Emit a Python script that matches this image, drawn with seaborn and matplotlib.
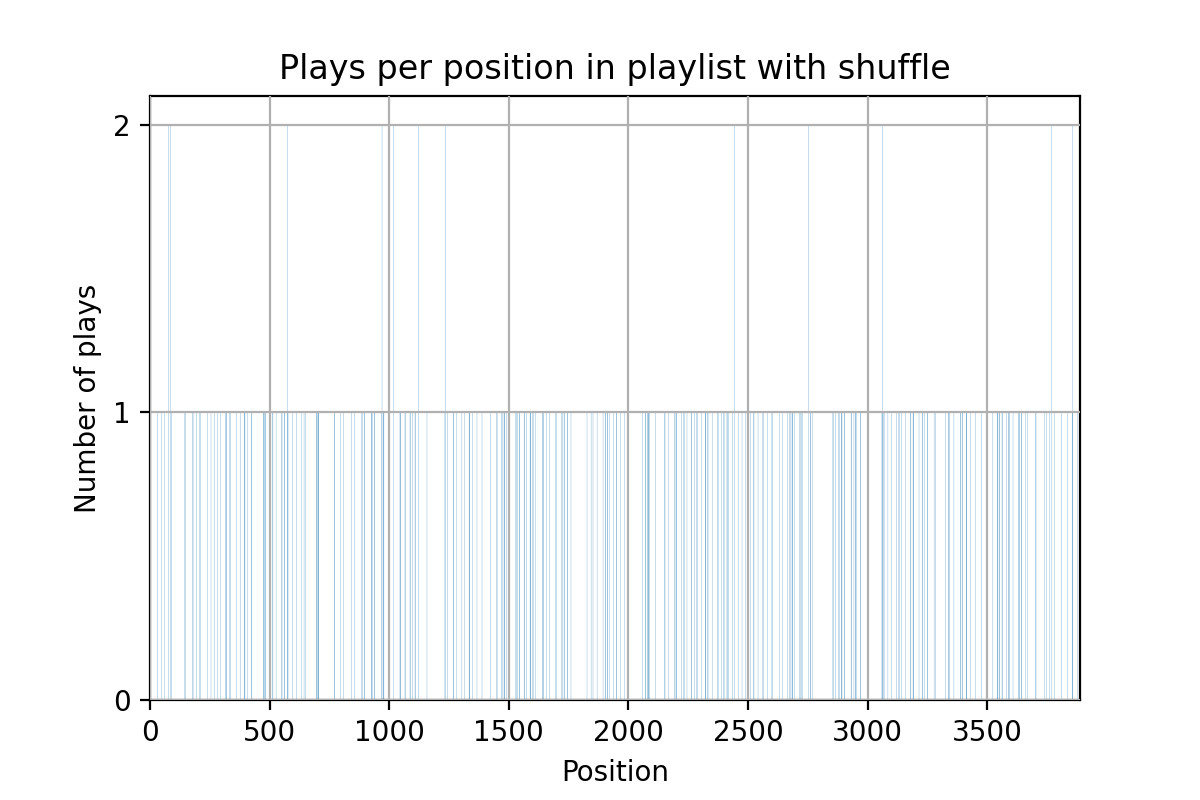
import matplotlib
matplotlib.use('Agg')
import matplotlib.pyplot as plt
import pandas as pd
import numpy as np
import seaborn as sns

# playlist length and positions that got played
n_positions = 3888

played_once = [
    31, 49, 60, 77, 87, 89, 145, 148, 178, 180, 195, 208, 210, 240, 255, 268, 283, 296,
    317, 318, 320, 333, 337, 360, 377, 394, 395, 397, 407, 424, 426, 473, 475, 480, 481,
    483, 512, 514, 527, 550, 552, 561, 563, 574, 576, 577, 597, 614, 635, 644,
    651, 696, 697, 699, 703, 704, 706, 770, 772, 795, 809, 844, 855, 885, 887, 896, 898,
    926, 927, 929, 938, 940, 968, 970, 975, 976, 978, 1018, 1045, 1046, 1048, 1066, 1068,
    1087, 1089, 1098, 1108, 1110, 1123, 1158, 1233, 1235, 1245, 1268, 1270, 1283,
    1304, 1314, 1334, 1335, 1337, 1349, 1367, 1388, 1425, 1449, 1451, 1470, 1472, 1480,
    1481, 1483, 1489, 1527, 1533, 1535, 1544, 1546, 1564, 1566, 1573, 1589, 1590, 1592,
    1600, 1602, 1611, 1642, 1643, 1645, 1657, 1671, 1695, 1701, 1721, 1723, 1731, 1733,
    1745, 1747, 1760, 1827, 1844, 1852, 1869, 1894, 1903, 1905, 1912, 1914, 1922, 1939,
    1949, 1951, 1967, 1985, 2060, 2070, 2072, 2080, 2082, 2084, 2085, 2087, 2113, 2151,
    2153, 2166, 2193, 2195, 2200, 2202, 2222, 2231, 2233, 2245, 2263, 2265, 2276, 2286,
    2288, 2305, 2321, 2322, 2324, 2331, 2333, 2350, 2373, 2375, 2389, 2398, 2400, 2412,
    2414, 2420, 2434, 2445, 2459, 2475, 2489, 2510, 2523, 2525, 2542, 2562, 2564, 2580,
    2600, 2602, 2633, 2643, 2664, 2674, 2676, 2684, 2685, 2687, 2694, 2716, 2718, 2725,
    2727, 2754, 2760, 2762, 2768, 2855, 2857, 2866, 2879, 2881, 2890, 2891, 2893, 2903,
    2905, 2931, 2933, 2943, 2949, 2950, 2952, 2970, 2972, 3060, 3062, 3067, 3069, 3085,
    3099, 3121, 3130, 3132, 3142, 3159, 3179, 3181, 3190, 3191, 3193, 3215, 3228, 3230,
    3238, 3249, 3251, 3278, 3285, 3326, 3339, 3340, 3342, 3361, 3388, 3390, 3395, 3397,
    3412, 3413, 3415, 3431, 3452, 3477, 3522, 3542, 3543, 3545, 3551, 3553, 3562, 3564,
    3580, 3590, 3591, 3593, 3608, 3632, 3633, 3635, 3643, 3645, 3661, 3668, 3702, 3704,
    3738, 3748, 3759, 3770, 3780, 3812, 3836, 3855, 3856, 3858, 3877,
]

played_twice = [77, 87, 574, 970, 1018, 1123, 1235, 2445, 2754, 3061, 3770, 3856]

# counts per position
counts = np.zeros(n_positions, dtype=int)
counts[played_once] = 1
counts[played_twice] = 2
df = pd.DataFrame({'position': np.arange(n_positions), 'plays': counts})

fig, ax = plt.subplots(figsize=(6, 4), dpi=200)
sns.barplot(data=df, x='position', y='plays', native_scale=True, width=1.0,
            color='#1f77b4', saturation=1, linewidth=0, edgecolor='none',
            errorbar=None, ax=ax)

# bars are narrower than a pixel: let them antialias instead of snapping
for p in ax.patches:
    p.set_snap(False)
    p.set_antialiased(True)

ax.set_xlim(0, n_positions)
ax.set_ylim(0, 2.1)
ax.set_yticks([0, 1, 2])
ax.set_xticks(np.arange(0, 4000, 500))
ax.grid(True)
ax.set_axisbelow(False)

plt.title('Plays per position in playlist with shuffle')
plt.xlabel('Position')
plt.ylabel('Number of plays')
plt.subplots_adjust(left=0.125, right=0.9, top=0.88, bottom=0.125)

plt.savefig('out.png', dpi=200)
